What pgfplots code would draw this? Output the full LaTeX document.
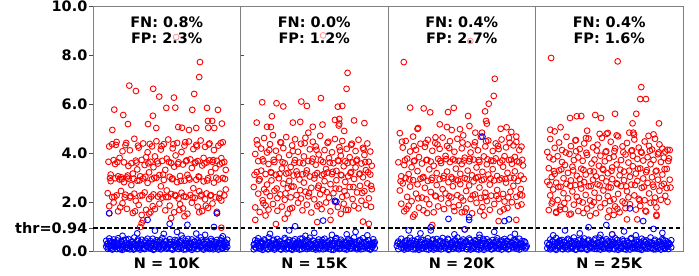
\documentclass[border=0pt]{standalone}
\usepackage{fontspec}
\setmainfont{DejaVu Sans}
\usepackage{pgfplots}
\usepackage{pgfplotstable}
\pgfplotsset{compat=1.18}
\definecolor{pred}{rgb}{1,0,0}
\definecolor{pblue}{rgb}{0,0,1}
\tikzset{ttl/.style={anchor=north, align=center, font=\fontsize{14.5}{16}\selectfont\bfseries, inner sep=0pt}}
\pgfplotsset{
  panel/.style={
    scale only axis, width=147.5bp, height=245bp,
    xmin=-0.5, xmax=0.5, ymin=0, ymax=10,
    anchor=south west,
    axis line style={draw=gray, line width=0.9bp},
    tick style={draw=black!70, line width=0.8bp},
    tick align=outside, major tick length=3.5bp,
    xtick={0}, xtick style={draw=none},
    ticklabel style={font=\fontsize{14.5}{17}\selectfont\bfseries},
    yticklabel style={inner xsep=2bp},
    /pgf/number format/assume math mode=true,
  },
  redpts/.style={only marks, mark=o, mark size=2.9bp, mark options={line width=0.9bp, draw=pred}, draw=pred},
  bluepts/.style={only marks, mark=o, mark size=2.9bp, mark options={line width=0.9bp, draw=pblue}, draw=pblue},
  pinkpts/.style={only marks, mark=o, mark size=2.9bp, mark options={line width=0.9bp, draw=pred!40}, draw=pred!40},
  thrline/.style={black, line width=1.2bp, dash pattern=on 4.5bp off 2.5bp, forget plot},
}
% dense part of the negative (blue) band, shared by the panels
\pgfplotstableread{
x y
-0.405 0.28
-0.395 0.14
-0.385 0.40
-0.375 0.21
-0.365 0.10
-0.355 0.33
-0.345 0.19
-0.335 0.43
-0.325 0.27
-0.315 0.07
-0.305 0.36
-0.295 0.15
-0.285 0.24
-0.275 0.46
-0.265 0.12
-0.255 0.31
-0.245 0.18
-0.235 0.39
-0.225 0.06
-0.215 0.29
-0.205 0.21
-0.195 0.47
-0.185 0.13
-0.175 0.35
-0.165 0.25
-0.155 0.09
-0.145 0.42
-0.135 0.19
-0.125 0.32
-0.115 0.14
-0.105 0.27
-0.095 0.50
-0.085 0.08
-0.075 0.22
-0.065 0.36
-0.055 0.16
-0.045 0.44
-0.035 0.11
-0.025 0.30
-0.015 0.20
-0.005 0.41
0.005 0.13
0.015 0.26
0.025 0.37
0.035 0.07
0.045 0.23
0.055 0.45
0.065 0.31
0.075 0.10
0.085 0.18
0.095 0.40
0.105 0.27
0.115 0.06
0.125 0.21
0.135 0.33
0.145 0.49
0.155 0.15
0.165 0.28
0.175 0.12
0.185 0.38
0.195 0.24
0.205 0.08
0.215 0.34
0.225 0.19
0.235 0.43
0.245 0.11
0.255 0.29
0.265 0.17
0.275 0.37
0.285 0.25
0.295 0.13
0.305 0.41
0.315 0.07
0.325 0.21
0.335 0.35
0.345 0.15
0.355 0.28
0.365 0.44
0.375 0.09
0.385 0.26
0.395 0.17
0.405 0.31
}\bluefill
\begin{document}
\begin{tikzpicture}
\path[use as bounding box] (0,0) rectangle (699bp,276bp);
% ---------------- Panel 1: N = 10K
\begin{axis}[panel, at={(93bp,25bp)},
  ytick={0,2,4,6,8,10},
  yticklabel style={/pgf/number format/.cd, fixed, fixed zerofill, precision=1},
  extra y ticks={0.94}, extra y tick labels={thr=0.94},
  xticklabels={N = 10K}]
\addplot[pinkpts] coordinates {(0.064,8.73)};
\addplot[redpts] coordinates {
(-0.254,6.75) (-0.209,6.53) (-0.092,6.62) (-0.051,6.30) (0.049,6.26) (0.186,6.41) (0.225,7.71) (0.220,7.10)
(-0.356,5.77) (-0.295,5.55) (-0.094,5.52) (-0.003,5.84) (0.058,5.85) (0.173,5.76) (0.273,5.84) (0.347,5.76)
(-0.263,5.18) (-0.127,5.18) (-0.071,5.02) (0.078,5.06) (0.103,5.03) (0.151,4.94) (0.200,5.02) (0.279,5.31)
(0.308,5.31) (0.281,5.03) (0.322,5.02) (0.374,5.20) (-0.369,4.94)
(-0.40,2.36) (-0.39,1.83) (-0.39,4.27) (-0.38,2.85) (-0.38,3.12) (-0.37,4.36) (-0.37,2.20) (-0.36,3.71) (-0.36,1.98)
(-0.35,3.55) (-0.35,2.97) (-0.34,4.45) (-0.34,2.27) (-0.33,3.05) (-0.33,1.62) (-0.32,2.92) (-0.32,3.80) (-0.31,2.45)
(-0.31,3.01) (-0.30,4.07) (-0.30,1.95) (-0.29,2.81) (-0.29,3.62) (-0.28,2.30) (-0.28,4.32) (-0.27,3.00) (-0.27,1.72)
(-0.26,3.47) (-0.26,2.95) (-0.25,2.18) (-0.25,4.11) (-0.24,3.58) (-0.24,2.69) (-0.23,1.55) (-0.23,3.16) (-0.22,2.34)
(-0.22,4.58) (-0.21,3.69) (-0.21,2.05) (-0.20,2.87) (-0.20,3.33) (-0.19,4.22) (-0.19,1.88) (-0.18,3.05) (-0.18,2.26)
(-0.17,3.72) (-0.17,1.47) (-0.16,2.96) (-0.16,4.39) (-0.15,2.39) (-0.15,3.51) (-0.14,1.68) (-0.14,3.83) (-0.13,2.78)
(-0.13,4.03) (-0.12,3.21) (-0.12,2.12) (-0.11,3.64) (-0.11,1.59) (-0.10,2.93) (-0.10,4.27) (-0.09,3.42) (-0.09,2.31)
(-0.08,3.86) (-0.08,1.71) (-0.07,2.99) (-0.07,4.48) (-0.06,2.22) (-0.06,3.57) (-0.05,3.10) (-0.05,1.93) (-0.04,4.14)
(-0.04,2.64) (-0.03,3.68) (-0.03,2.18) (-0.02,2.90) (-0.02,4.36) (-0.01,3.31) (-0.01,1.66) (0.00,2.47) (0.00,3.77)
(0.01,2.20) (0.01,4.55) (0.02,3.03) (0.02,1.85) (0.03,3.59) (0.03,2.33) (0.04,4.19) (0.04,2.96) (0.05,1.58)
(0.05,3.44) (0.06,2.25) (0.06,3.90) (0.07,2.81) (0.07,4.41) (0.08,2.14) (0.08,3.62) (0.09,1.91) (0.09,3.06)
(0.10,4.04) (0.10,2.38) (0.11,3.53) (0.11,1.74) (0.12,2.87) (0.12,4.30) (0.13,3.66) (0.13,2.21) (0.14,3.11)
(0.14,1.52) (0.15,4.47) (0.15,2.98) (0.16,2.29) (0.16,3.74) (0.17,1.97) (0.17,3.39) (0.18,4.16) (0.18,2.56)
(0.19,3.58) (0.19,2.17) (0.20,2.91) (0.20,4.33) (0.21,1.81) (0.21,3.67) (0.22,2.44) (0.22,3.02) (0.23,4.51)
(0.23,2.24) (0.24,3.49) (0.24,1.63) (0.25,2.84) (0.25,3.80) (0.26,2.11) (0.26,4.25) (0.27,3.61) (0.27,2.35)
(0.28,2.97) (0.28,1.76) (0.29,3.70) (0.29,4.39) (0.30,2.28) (0.30,3.22) (0.31,1.94) (0.31,3.64) (0.32,2.79)
(0.32,4.12) (0.33,3.38) (0.33,2.19) (0.34,3.68) (0.34,1.60) (0.35,2.92) (0.35,4.30) (0.36,2.34) (0.36,3.54)
(0.37,3.79) (0.37,2.06) (0.38,2.98) (0.38,4.44) (0.39,2.27) (0.39,3.63) (0.40,3.31) (0.40,2.51)
(-0.385,2.98) (-0.355,2.21) (-0.335,3.63) (-0.305,2.93) (-0.285,2.19) (-0.265,3.08) (-0.245,2.24) (-0.225,2.95)
(-0.205,3.61) (-0.185,2.88) (-0.165,2.27) (-0.145,3.03) (-0.125,3.58) (-0.105,2.22) (-0.085,2.99) (-0.065,3.66)
(-0.045,2.31) (-0.025,3.12) (-0.005,2.20) (0.015,3.64) (0.035,2.93) (0.055,2.29) (0.075,3.55) (0.095,2.86)
(0.115,2.23) (0.135,3.70) (0.155,2.92) (0.175,2.18) (0.195,3.62) (0.215,3.04) (0.235,2.30) (0.255,3.57)
(0.275,2.88) (0.295,2.26) (0.315,3.71) (0.335,2.99) (0.355,2.16) (0.375,3.60) (0.395,2.94) (-0.395,3.64)
(-0.345,4.33) (-0.275,4.41) (-0.195,4.30) (-0.115,4.37) (-0.035,4.28) (0.045,4.36) (0.125,4.44) (0.205,4.27)
(0.285,4.35) (0.365,4.40) (-0.315,1.78) (-0.215,1.62) (-0.095,1.83) (0.085,1.67) (0.265,1.85)
(-0.39,1.54) (0.34,1.54) (-0.18,0.98) (-0.17,1.14) (-0.16,1.25) (0.37,0.95) (-0.12,1.53) (0.03,1.35) (0.12,1.42) (0.22,1.58)
};
\addplot[bluepts] table[x=x, y=y] {\bluefill};
\addplot[bluepts] coordinates {
(-0.41,0.18) (-0.41,0.42) (-0.40,0.09) (-0.40,0.31) (-0.39,0.51) (-0.39,0.22) (-0.38,0.13) (-0.37,0.37) (-0.37,0.06)
(-0.36,0.27) (-0.36,0.47) (-0.35,0.15) (-0.34,0.34) (-0.34,0.08) (-0.33,0.24) (-0.33,0.52) (-0.32,0.11) (-0.31,0.39)
(-0.31,0.19) (-0.30,0.29) (-0.30,0.05) (-0.29,0.45) (-0.28,0.16) (-0.28,0.33) (-0.27,0.10) (-0.27,0.25) (-0.26,0.49)
(-0.25,0.20) (-0.25,0.07) (-0.24,0.36) (-0.23,0.14) (-0.23,0.28) (-0.22,0.55) (-0.22,0.09) (-0.21,0.23) (-0.20,0.41)
(-0.20,0.12) (-0.19,0.31) (-0.18,0.06) (-0.18,0.19) (-0.17,0.46) (-0.17,0.26) (-0.16,0.13) (-0.15,0.35) (-0.15,0.08)
(-0.14,0.22) (-0.13,0.50) (-0.13,0.16) (-0.12,0.30) (-0.11,0.10) (-0.11,0.40) (-0.10,0.21) (-0.09,0.05) (-0.09,0.33)
(-0.08,0.17) (-0.07,0.44) (-0.07,0.27) (-0.06,0.11) (-0.05,0.37) (-0.05,0.20) (-0.04,0.07) (-0.03,0.29) (-0.03,0.53)
(-0.02,0.14) (-0.01,0.24) (-0.01,0.39) (0.00,0.09) (0.01,0.32) (0.01,0.18) (0.02,0.48) (0.03,0.12) (0.03,0.27)
(0.04,0.06) (0.05,0.36) (0.05,0.21) (0.06,0.15) (0.07,0.43) (0.07,0.28) (0.08,0.08) (0.09,0.23) (0.09,0.35)
(0.10,0.13) (0.11,0.51) (0.11,0.19) (0.12,0.30) (0.13,0.07) (0.13,0.41) (0.14,0.25) (0.15,0.11) (0.15,0.34)
(0.16,0.17) (0.17,0.47) (0.17,0.05) (0.18,0.26) (0.19,0.38) (0.19,0.14) (0.20,0.22) (0.21,0.09) (0.21,0.44)
(0.22,0.31) (0.23,0.16) (0.23,0.55) (0.24,0.20) (0.25,0.06) (0.25,0.36) (0.26,0.27) (0.27,0.12) (0.27,0.42)
(0.28,0.18) (0.29,0.32) (0.29,0.08) (0.30,0.49) (0.31,0.23) (0.31,0.14) (0.32,0.37) (0.33,0.10) (0.33,0.29)
(0.34,0.45) (0.35,0.19) (0.35,0.06) (0.36,0.33) (0.37,0.24) (0.37,0.52) (0.38,0.13) (0.39,0.40) (0.39,0.21)
(0.40,0.09) (0.40,0.34) (0.41,0.17) (0.41,0.46)
(-0.13,1.27) (0.02,1.11) (0.14,1.07) (0.32,0.98) (-0.08,0.83) (-0.39,1.54) (0.34,1.54) (0.07,0.78) (0.20,0.71)
(-0.20,0.72) (0.26,0.66) (-0.02,0.70) (0.10,0.63) (-0.30,0.62) (0.38,0.60)
};
\addplot[thrline] coordinates {(-0.5,0.94) (0.5,0.94)};
\node[ttl] at (rel axis cs:0.5,0.957) {FN: 0.8\%\\FP: 2.3\%};
\end{axis}
% ---------------- Panel 2: N = 15K
\begin{axis}[panel, at={(240.5bp,25bp)}, ytick=\empty, xticklabels={N = 15K}]
\addplot[pinkpts] coordinates {(0.06,8.80)};
\addplot[redpts] coordinates {
(0.226,7.27) (0.219,6.62) (0.045,6.24) (-0.353,6.07) (-0.256,6.03) (-0.21,5.90) (-0.088,6.10) (-0.05,5.92)
(0.16,5.89) (0.19,5.92) (-0.287,5.50) (-0.39,5.24) (-0.32,5.07) (-0.294,5.06) (-0.145,5.24) (-0.095,5.27)
(-0.01,5.07) (0.056,5.16) (0.14,5.35) (0.17,5.39) (0.17,5.20) (0.166,5.12) (0.27,5.33) (0.34,5.22) (0.203,4.90) (-0.04,4.83)
(-0.41,2.61) (-0.40,3.96) (-0.40,1.78) (-0.39,3.22) (-0.39,4.52) (-0.38,2.34) (-0.38,3.67) (-0.37,1.59) (-0.37,2.93)
(-0.36,4.18) (-0.36,3.28) (-0.35,2.07) (-0.35,3.74) (-0.34,4.61) (-0.34,2.52) (-0.33,1.86) (-0.33,3.14) (-0.32,4.02)
(-0.32,2.71) (-0.31,3.55) (-0.31,1.69) (-0.30,2.24) (-0.30,4.36) (-0.29,3.19) (-0.29,2.88) (-0.28,4.73) (-0.28,1.92)
(-0.27,3.63) (-0.27,2.46) (-0.26,3.11) (-0.26,4.09) (-0.25,2.16) (-0.25,1.64) (-0.24,3.82) (-0.24,2.97) (-0.23,4.44)
(-0.23,2.31) (-0.22,3.37) (-0.22,1.81) (-0.21,2.75) (-0.21,4.20) (-0.20,3.58) (-0.20,2.09) (-0.19,3.16) (-0.19,4.65)
(-0.18,2.57) (-0.18,1.53) (-0.17,3.92) (-0.17,2.86) (-0.16,3.43) (-0.16,2.19) (-0.15,4.31) (-0.15,1.76) (-0.14,3.08)
(-0.14,2.63) (-0.13,3.71) (-0.13,4.56) (-0.12,2.28) (-0.12,3.25) (-0.11,1.97) (-0.11,4.05) (-0.10,2.92) (-0.10,3.61)
(-0.09,2.14) (-0.09,4.38) (-0.08,3.13) (-0.08,1.66) (-0.07,2.79) (-0.07,3.86) (-0.06,4.62) (-0.06,2.42) (-0.05,3.29)
(-0.05,1.89) (-0.04,3.67) (-0.04,2.23) (-0.03,4.15) (-0.03,3.04) (-0.02,2.58) (-0.02,1.57) (-0.01,3.77) (-0.01,4.46)
(0.00,2.96) (0.00,2.11) (0.01,3.52) (0.01,4.27) (0.02,1.83) (0.02,3.18) (0.03,2.67) (0.03,3.94) (0.04,2.32)
(0.04,4.70) (0.05,3.09) (0.05,1.71) (0.06,3.63) (0.06,2.49) (0.07,4.12) (0.07,2.85) (0.08,3.35) (0.08,1.98)
(0.09,4.41) (0.09,3.20) (0.10,2.18) (0.10,3.79) (0.11,2.73) (0.11,1.62) (0.12,4.03) (0.12,3.14) (0.13,2.36)
(0.13,3.58) (0.14,4.57) (0.14,2.01) (0.15,3.27) (0.15,2.89) (0.16,3.70) (0.16,1.79) (0.17,4.24) (0.17,2.54)
(0.18,3.11) (0.18,3.89) (0.19,2.21) (0.19,4.49) (0.20,1.93) (0.20,3.46) (0.21,2.82) (0.21,3.66) (0.22,4.17)
(0.22,2.27) (0.23,3.05) (0.23,1.68) (0.24,3.83) (0.24,2.61) (0.25,4.33) (0.25,3.22) (0.26,2.12) (0.26,3.61)
(0.27,1.85) (0.27,2.94) (0.28,4.08) (0.28,3.41) (0.29,2.39) (0.29,3.73) (0.30,1.74) (0.30,4.54) (0.31,3.16)
(0.31,2.66) (0.32,3.57) (0.32,2.05) (0.33,4.21) (0.33,3.01) (0.34,2.44) (0.34,3.92) (0.35,1.88) (0.35,3.30)
(0.36,4.39) (0.36,2.76) (0.37,3.64) (0.37,2.15) (0.38,3.12) (0.38,4.06) (0.39,2.52) (0.39,3.48)
(-0.405,3.11) (-0.375,2.87) (-0.345,3.66) (-0.325,2.40) (-0.295,3.22) (-0.275,3.72) (-0.255,2.55) (-0.235,3.15)
(-0.215,3.62) (-0.195,2.35) (-0.175,3.19) (-0.155,2.63) (-0.135,3.60) (-0.115,3.12) (-0.095,2.48) (-0.075,3.58)
(-0.055,3.17) (-0.035,2.36) (-0.015,3.65) (0.005,3.10) (0.025,2.58) (0.045,3.70) (0.065,3.14) (0.085,2.40)
(0.105,3.61) (0.125,3.23) (0.145,2.55) (0.165,3.67) (0.185,3.09) (0.205,2.44) (0.225,3.59) (0.245,3.18)
(0.265,2.61) (0.285,3.68) (0.305,3.13) (0.325,2.37) (0.345,3.63) (0.365,3.21) (0.385,2.66) (-0.385,4.35)
(-0.305,4.12) (-0.225,4.42) (-0.145,4.08) (-0.065,4.40) (0.015,4.13) (0.095,4.46) (0.175,4.10) (0.255,4.38)
(0.335,4.15) (-0.345,1.95) (-0.165,1.72) (0.035,1.90) (0.215,1.68) (0.385,1.80)
(-0.40,1.27) (-0.26,1.10) (-0.20,1.32) (0.02,1.18) (0.11,1.27) (0.33,1.20) (0.37,1.11) (-0.33,1.45) (0.18,1.52)
};
\addplot[bluepts] table[x=x, y=y] {\bluefill};
\addplot[bluepts] coordinates {
(-0.41,0.26) (-0.41,0.07) (-0.40,0.44) (-0.40,0.15) (-0.39,0.33) (-0.38,0.21) (-0.38,0.52) (-0.37,0.10) (-0.36,0.38)
(-0.36,0.18) (-0.35,0.05) (-0.35,0.29) (-0.34,0.47) (-0.33,0.13) (-0.33,0.24) (-0.32,0.36) (-0.31,0.08) (-0.31,0.55)
(-0.30,0.19) (-0.29,0.31) (-0.29,0.12) (-0.28,0.42) (-0.27,0.23) (-0.27,0.06) (-0.26,0.35) (-0.25,0.16) (-0.25,0.49)
(-0.24,0.27) (-0.23,0.09) (-0.23,0.40) (-0.22,0.20) (-0.21,0.32) (-0.21,0.14) (-0.20,0.53) (-0.19,0.07) (-0.19,0.25)
(-0.18,0.37) (-0.17,0.11) (-0.17,0.45) (-0.16,0.22) (-0.15,0.05) (-0.15,0.30) (-0.14,0.17) (-0.13,0.48) (-0.13,0.28)
(-0.12,0.10) (-0.11,0.39) (-0.11,0.19) (-0.10,0.06) (-0.09,0.34) (-0.09,0.24) (-0.08,0.51) (-0.07,0.13) (-0.07,0.29)
(-0.06,0.42) (-0.05,0.08) (-0.05,0.21) (-0.04,0.36) (-0.03,0.15) (-0.03,0.54) (-0.02,0.26) (-0.01,0.09) (-0.01,0.43)
(0.00,0.18) (0.01,0.33) (0.01,0.06) (0.02,0.23) (0.03,0.47) (0.03,0.12) (0.04,0.30) (0.05,0.20) (0.05,0.38)
(0.06,0.07) (0.07,0.27) (0.07,0.50) (0.08,0.14) (0.09,0.35) (0.09,0.22) (0.10,0.09) (0.11,0.44) (0.11,0.17)
(0.12,0.31) (0.13,0.05) (0.13,0.26) (0.14,0.40) (0.15,0.12) (0.15,0.53) (0.16,0.21) (0.17,0.34) (0.17,0.08)
(0.18,0.46) (0.19,0.18) (0.19,0.29) (0.20,0.11) (0.21,0.37) (0.21,0.24) (0.22,0.06) (0.23,0.49) (0.23,0.16)
(0.24,0.32) (0.25,0.10) (0.25,0.41) (0.26,0.20) (0.27,0.28) (0.27,0.55) (0.28,0.13) (0.29,0.36) (0.29,0.07)
(0.30,0.23) (0.31,0.45) (0.31,0.15) (0.32,0.30) (0.33,0.09) (0.33,0.52) (0.34,0.19) (0.35,0.38) (0.35,0.26)
(0.36,0.11) (0.37,0.43) (0.37,0.21) (0.38,0.06) (0.39,0.33) (0.39,0.17) (0.40,0.48) (0.40,0.25) (0.41,0.12) (0.41,0.36)
(0.06,1.24) (-0.13,1.01) (0.14,2.05) (0.15,2.01) (-0.17,0.84) (0.00,0.74) (0.28,0.78) (-0.30,0.70) (0.12,0.66)
(-0.06,0.62) (0.36,0.64) (0.22,0.68)
};
\addplot[thrline] coordinates {(-0.5,0.94) (0.5,0.94)};
\node[ttl] at (rel axis cs:0.5,0.957) {FN: 0.0\%\\FP: 1.2\%};
\end{axis}
% ---------------- Panel 3: N = 20K
\begin{axis}[panel, at={(388bp,25bp)}, ytick=\empty, xticklabels={N = 20K}]
\addplot[pinkpts] coordinates {(0.058,8.57)};
\addplot[redpts] coordinates {
(-0.393,7.71) (0.224,7.03) (0.217,6.33) (0.183,6.01) (0.158,5.70) (0.165,5.31) (0.17,5.20) (0.043,5.51)
(0.052,5.10) (-0.054,5.84) (-0.093,5.67) (-0.258,5.82) (-0.214,5.66) (-0.35,5.85) (-0.296,5.02) (-0.30,4.98)
(-0.149,5.17) (-0.10,5.06) (-0.068,4.94) (-0.012,4.97) (0.092,4.83) (0.137,4.83) (0.264,4.99) (0.304,5.05)
(0.336,4.86) (-0.178,4.64) (0.37,4.67)
(-0.43,3.62) (-0.42,2.47) (-0.42,4.81) (-0.41,1.93) (-0.41,3.05) (-0.40,4.22) (-0.40,2.76) (-0.39,3.51) (-0.39,1.62)
(-0.38,2.98) (-0.38,4.49) (-0.37,2.21) (-0.37,3.77) (-0.36,3.14) (-0.36,1.85) (-0.35,4.06) (-0.35,2.63) (-0.34,3.42)
(-0.34,2.03) (-0.33,4.67) (-0.33,2.89) (-0.32,3.69) (-0.32,1.49) (-0.31,2.34) (-0.31,4.13) (-0.30,3.26) (-0.30,2.72)
(-0.29,1.77) (-0.29,3.83) (-0.28,2.95) (-0.28,4.38) (-0.27,2.18) (-0.27,3.57) (-0.26,1.66) (-0.26,3.02) (-0.25,4.25)
(-0.25,2.58) (-0.24,3.71) (-0.24,2.11) (-0.23,4.54) (-0.23,2.86) (-0.22,3.33) (-0.22,1.91) (-0.21,3.65) (-0.21,2.41)
(-0.20,4.09) (-0.20,2.99) (-0.19,1.58) (-0.19,3.48) (-0.18,2.26) (-0.18,4.41) (-0.17,3.18) (-0.17,2.69) (-0.16,3.76)
(-0.16,1.82) (-0.15,4.17) (-0.15,2.93) (-0.14,2.14) (-0.14,3.59) (-0.13,4.63) (-0.13,2.52) (-0.12,3.07) (-0.12,1.71)
(-0.11,3.88) (-0.11,2.35) (-0.10,4.29) (-0.10,3.24) (-0.09,2.81) (-0.09,1.95) (-0.08,3.63) (-0.08,4.48) (-0.07,2.19)
(-0.07,3.01) (-0.06,3.74) (-0.06,2.64) (-0.05,4.05) (-0.05,1.63) (-0.04,3.36) (-0.04,2.91) (-0.03,4.58) (-0.03,2.28)
(-0.02,3.68) (-0.02,1.87) (-0.01,3.15) (-0.01,2.73) (0.00,4.19) (0.00,3.55) (0.01,2.06) (0.01,4.72) (0.02,2.97)
(0.02,3.81) (0.03,1.74) (0.03,2.45) (0.04,3.28) (0.04,4.35) (0.05,2.68) (0.05,3.66) (0.06,2.12) (0.06,4.02)
(0.07,3.09) (0.07,1.54) (0.08,3.73) (0.08,2.84) (0.09,4.44) (0.09,2.31) (0.10,3.41) (0.10,1.97) (0.11,3.02)
(0.11,4.11) (0.12,2.59) (0.12,3.64) (0.13,2.17) (0.13,4.66) (0.14,3.23) (0.14,1.79) (0.15,2.92) (0.15,3.86)
(0.16,2.38) (0.16,4.27) (0.17,3.54) (0.17,2.04) (0.18,3.12) (0.18,4.51) (0.19,2.71) (0.19,1.68) (0.20,3.69)
(0.20,2.26) (0.21,4.08) (0.21,3.34) (0.22,2.88) (0.22,1.92) (0.23,3.78) (0.23,4.39) (0.24,2.49) (0.24,3.06)
(0.25,2.13) (0.25,4.16) (0.26,3.61) (0.26,1.61) (0.27,2.96) (0.27,4.55) (0.28,2.33) (0.28,3.44) (0.29,3.87)
(0.29,2.02) (0.30,4.23) (0.30,2.79) (0.31,3.19) (0.31,1.76) (0.32,3.71) (0.32,4.62) (0.33,2.42) (0.33,2.99)
(0.34,3.56) (0.34,1.99) (0.35,4.31) (0.35,2.66) (0.36,3.25) (0.36,3.84) (0.37,2.21) (0.37,4.45) (0.38,2.86)
(0.38,1.84) (0.39,3.62) (0.39,4.12) (0.40,2.53) (0.40,3.08) (0.41,3.72) (0.41,2.27) (0.42,2.94)
(-0.415,2.85) (-0.385,3.70) (-0.355,2.92) (-0.325,3.66) (-0.295,2.15) (-0.265,2.99) (-0.235,3.72) (-0.205,2.90)
(-0.175,2.23) (-0.145,3.68) (-0.125,2.97) (-0.105,3.75) (-0.085,2.24) (-0.065,2.95) (-0.045,3.70) (-0.025,2.88)
(-0.005,2.18) (0.015,3.69) (0.035,2.93) (0.055,3.76) (0.075,2.27) (0.095,2.98) (0.115,3.71) (0.135,2.89)
(0.155,2.20) (0.175,3.74) (0.195,2.96) (0.215,3.67) (0.235,2.25) (0.255,2.91) (0.275,3.70) (0.295,2.94)
(0.315,2.19) (0.335,3.73) (0.355,2.97) (0.375,3.66) (0.395,2.30) (0.415,3.49) (-0.405,4.46) (-0.325,4.28)
(-0.245,4.40) (-0.165,4.35) (-0.085,4.20) (0.005,4.43) (0.085,4.31) (0.165,4.48) (0.245,4.29) (0.325,4.42)
(0.405,4.26) (-0.375,1.71) (-0.235,1.55) (-0.055,1.80) (0.125,1.62) (0.285,1.70) (0.405,1.90)
(0.25,1.22) (0.37,1.27) (-0.20,1.06) (0.02,0.88) (0.00,1.58) (0.02,1.60) (-0.33,1.40) (0.15,1.45)
};
\addplot[bluepts] table[x=x, y=y] {\bluefill};
\addplot[bluepts] coordinates {
(-0.44,0.21) (-0.43,0.39) (-0.43,0.08) (-0.42,0.30) (-0.41,0.14) (-0.41,0.50) (-0.40,0.25) (-0.39,0.06) (-0.39,0.35)
(-0.38,0.18) (-0.37,0.44) (-0.37,0.11) (-0.36,0.28) (-0.35,0.54) (-0.35,0.16) (-0.34,0.33) (-0.33,0.07) (-0.33,0.23)
(-0.32,0.41) (-0.31,0.12) (-0.31,0.29) (-0.30,0.48) (-0.29,0.19) (-0.29,0.05) (-0.28,0.37) (-0.27,0.26) (-0.27,0.10)
(-0.26,0.45) (-0.25,0.17) (-0.25,0.32) (-0.24,0.08) (-0.23,0.52) (-0.23,0.22) (-0.22,0.36) (-0.21,0.13) (-0.21,0.27)
(-0.20,0.43) (-0.19,0.06) (-0.19,0.19) (-0.18,0.34) (-0.17,0.49) (-0.17,0.11) (-0.16,0.24) (-0.15,0.40) (-0.15,0.15)
(-0.14,0.07) (-0.13,0.31) (-0.13,0.53) (-0.12,0.20) (-0.11,0.12) (-0.11,0.38) (-0.10,0.27) (-0.09,0.05) (-0.09,0.46)
(-0.08,0.17) (-0.07,0.33) (-0.07,0.23) (-0.06,0.09) (-0.05,0.42) (-0.05,0.14) (-0.04,0.29) (-0.03,0.55) (-0.03,0.19)
(-0.02,0.07) (-0.01,0.36) (-0.01,0.25) (0.00,0.12) (0.01,0.47) (0.01,0.21) (0.02,0.32) (0.03,0.09) (0.03,0.40)
(0.04,0.16) (0.05,0.27) (0.05,0.51) (0.06,0.06) (0.07,0.35) (0.07,0.20) (0.08,0.13) (0.09,0.44) (0.09,0.28)
(0.10,0.08) (0.11,0.37) (0.11,0.18) (0.12,0.54) (0.13,0.24) (0.13,0.11) (0.14,0.33) (0.15,0.05) (0.15,0.42)
(0.16,0.19) (0.17,0.29) (0.17,0.48) (0.18,0.14) (0.19,0.36) (0.19,0.22) (0.20,0.07) (0.21,0.45) (0.21,0.26)
(0.22,0.12) (0.23,0.38) (0.23,0.17) (0.24,0.52) (0.25,0.09) (0.25,0.31) (0.26,0.23) (0.27,0.43) (0.27,0.06)
(0.28,0.18) (0.29,0.34) (0.29,0.49) (0.30,0.13) (0.31,0.27) (0.31,0.40) (0.32,0.08) (0.33,0.21) (0.33,0.55)
(0.34,0.32) (0.35,0.15) (0.35,0.44) (0.36,0.25) (0.37,0.10) (0.37,0.37) (0.38,0.19) (0.39,0.50) (0.39,0.06)
(0.40,0.29) (0.41,0.16) (0.41,0.41) (0.42,0.23) (0.43,0.11) (0.43,0.35) (0.44,0.20)
(-0.435,0.33) (0.425,0.39) (0.435,0.15)
(-0.09,1.31) (0.05,1.27) (0.05,1.38) (0.29,1.22) (0.32,1.29) (0.02,0.88) (-0.21,0.97) (-0.36,0.84) (-0.21,0.84)
(0.14,4.67) (-0.28,0.72) (0.22,0.78) (0.36,0.70) (-0.05,0.68) (0.12,0.66)
};
\addplot[thrline] coordinates {(-0.5,0.94) (0.5,0.94)};
\node[ttl] at (rel axis cs:0.5,0.957) {FN: 0.4\%\\FP: 2.7\%};
\end{axis}
% ---------------- Panel 4: N = 25K
\begin{axis}[panel, at={(535.5bp,25bp)}, ytick=\empty, xticklabels={N = 25K}]
\addplot[redpts] coordinates {
(-0.394,7.88) (0.057,7.74) (0.217,6.69) (0.21,6.20) (0.249,6.20) (-0.266,5.43) (-0.22,5.50) (-0.19,5.51)
(-0.095,5.55) (-0.056,5.43) (0.039,5.60) (0.183,5.60) (0.158,5.21) (0.337,5.21) (-0.15,4.91) (-0.065,4.78)
(-0.018,4.78) (-0.01,4.82) (0.05,4.72) (0.136,4.83) (0.163,4.83) (0.168,4.75) (0.266,4.70) (0.30,4.76)
(-0.226,4.53) (-0.158,4.61) (-0.40,4.95) (-0.37,4.88) (-0.33,5.05)
(-0.42,2.83) (-0.42,4.04) (-0.41,1.67) (-0.41,3.38) (-0.40,2.27) (-0.40,4.57) (-0.39,3.02) (-0.39,1.94) (-0.38,3.74)
(-0.38,2.51) (-0.37,4.21) (-0.37,3.15) (-0.36,1.56) (-0.36,2.79) (-0.35,3.87) (-0.35,2.08) (-0.34,4.43) (-0.34,3.29)
(-0.33,2.62) (-0.33,1.81) (-0.32,3.63) (-0.32,4.12) (-0.31,2.36) (-0.31,2.97) (-0.30,3.51) (-0.30,1.71) (-0.29,4.66)
(-0.29,2.74) (-0.28,3.19) (-0.28,2.15) (-0.27,3.96) (-0.27,1.49) (-0.26,2.88) (-0.26,4.28) (-0.25,3.44) (-0.25,2.43)
(-0.24,1.89) (-0.24,3.71) (-0.23,2.69) (-0.23,4.51) (-0.22,3.07) (-0.22,2.21) (-0.21,3.82) (-0.21,1.63) (-0.20,2.94)
(-0.20,4.16) (-0.19,3.36) (-0.19,2.55) (-0.18,1.98) (-0.18,3.68) (-0.17,4.39) (-0.17,2.81) (-0.16,3.12) (-0.16,2.29)
(-0.15,1.73) (-0.15,3.92) (-0.14,2.64) (-0.14,4.59) (-0.13,3.26) (-0.13,2.06) (-0.12,3.57) (-0.12,1.86) (-0.11,2.91)
(-0.11,4.23) (-0.10,3.73) (-0.10,2.38) (-0.09,1.54) (-0.09,3.05) (-0.08,4.34) (-0.08,2.72) (-0.07,3.48) (-0.07,2.17)
(-0.06,3.89) (-0.06,1.78) (-0.05,2.98) (-0.05,4.62) (-0.04,3.31) (-0.04,2.47) (-0.03,3.66) (-0.03,1.95) (-0.02,4.07)
(-0.02,2.84) (-0.01,3.17) (-0.01,2.24) (0.00,3.79) (0.00,1.65) (0.01,4.46) (0.01,2.59) (0.02,3.41) (0.02,2.93)
(0.03,2.11) (0.03,3.85) (0.04,4.19) (0.04,1.82) (0.05,2.76) (0.05,3.53) (0.06,4.68) (0.06,2.33) (0.07,3.09)
(0.07,1.58) (0.08,3.71) (0.08,2.65) (0.09,4.27) (0.09,2.02) (0.10,3.24) (0.10,2.89) (0.11,3.94) (0.11,1.75)
(0.12,2.44) (0.12,4.41) (0.13,3.61) (0.13,2.19) (0.14,3.03) (0.14,1.91) (0.15,4.09) (0.15,2.71) (0.16,3.46)
(0.16,3.88) (0.17,2.27) (0.17,4.55) (0.18,1.69) (0.18,3.16) (0.19,2.86) (0.19,3.76) (0.20,4.22) (0.20,2.13)
(0.21,3.37) (0.21,1.84) (0.22,2.58) (0.22,4.01) (0.23,3.69) (0.23,2.96) (0.24,2.07) (0.24,4.47) (0.25,3.22)
(0.25,1.61) (0.26,2.78) (0.26,3.83) (0.27,4.29) (0.27,2.35) (0.28,3.54) (0.28,1.97) (0.29,3.01) (0.29,4.14)
(0.30,2.62) (0.30,3.72) (0.31,2.18) (0.31,4.58) (0.32,3.28) (0.32,1.78) (0.33,2.91) (0.33,3.95) (0.34,4.35)
(0.34,2.46) (0.35,3.63) (0.35,2.09) (0.36,3.12) (0.36,4.18) (0.37,2.74) (0.37,3.81) (0.38,2.25) (0.38,4.06)
(0.39,3.35) (0.39,2.57) (0.40,3.67) (0.41,2.91) (0.41,4.12)
(-0.405,2.70) (-0.375,3.26) (-0.345,2.61) (-0.325,3.33) (-0.295,4.02) (-0.265,2.66) (-0.245,3.29) (-0.225,4.07)
(-0.195,2.72) (-0.175,3.31) (-0.155,4.01) (-0.125,2.65) (-0.105,3.24) (-0.085,4.10) (-0.065,2.68) (-0.045,3.35)
(-0.025,4.04) (-0.005,2.60) (0.015,3.27) (0.035,4.08) (0.055,2.73) (0.075,3.32) (0.095,4.03) (0.115,2.64)
(0.135,3.28) (0.155,4.11) (0.175,2.69) (0.195,3.36) (0.215,4.05) (0.235,2.62) (0.255,3.30) (0.275,4.09)
(0.295,2.71) (0.315,3.25) (0.335,4.02) (0.355,2.67) (0.375,3.34) (0.395,4.13) (0.415,2.59) (-0.385,2.02)
(-0.305,1.96) (-0.205,2.05) (-0.105,1.99) (0.005,2.04) (0.105,1.95) (0.205,2.07) (0.305,1.98) (0.395,2.01)
(-0.335,1.68) (-0.175,1.55) (0.055,1.72) (0.245,1.64) (-0.405,3.82) (0.405,3.78)
(0.12,1.29) (0.19,1.29) (-0.01,1.38) (0.03,1.47) (-0.13,1.44) (0.32,1.43) (0.32,1.48) (0.02,0.68) (-0.36,1.60) (-0.26,1.52)
};
\addplot[bluepts] table[x=x, y=y] {\bluefill};
\addplot[bluepts] coordinates {
(-0.42,0.33) (-0.42,0.12) (-0.41,0.24) (-0.40,0.47) (-0.40,0.07) (-0.39,0.19) (-0.38,0.38) (-0.38,0.14) (-0.37,0.28)
(-0.36,0.53) (-0.36,0.05) (-0.35,0.22) (-0.34,0.41) (-0.34,0.16) (-0.33,0.31) (-0.32,0.09) (-0.32,0.45) (-0.31,0.25)
(-0.30,0.13) (-0.30,0.36) (-0.29,0.20) (-0.28,0.50) (-0.28,0.07) (-0.27,0.30) (-0.26,0.17) (-0.26,0.42) (-0.25,0.11)
(-0.24,0.26) (-0.24,0.55) (-0.23,0.06) (-0.22,0.35) (-0.22,0.19) (-0.21,0.44) (-0.20,0.13) (-0.20,0.28) (-0.19,0.08)
(-0.18,0.39) (-0.18,0.22) (-0.17,0.51) (-0.16,0.15) (-0.16,0.32) (-0.15,0.05) (-0.14,0.25) (-0.14,0.46) (-0.13,0.12)
(-0.12,0.37) (-0.12,0.18) (-0.11,0.29) (-0.10,0.09) (-0.10,0.43) (-0.09,0.21) (-0.08,0.34) (-0.08,0.14) (-0.07,0.54)
(-0.06,0.06) (-0.06,0.27) (-0.05,0.40) (-0.04,0.17) (-0.04,0.10) (-0.03,0.31) (-0.02,0.48) (-0.02,0.23) (-0.01,0.13)
(0.00,0.36) (0.00,0.07) (0.01,0.20) (0.02,0.44) (0.02,0.28) (0.03,0.11) (0.04,0.33) (0.04,0.52) (0.05,0.16)
(0.06,0.05) (0.06,0.25) (0.07,0.39) (0.08,0.19) (0.08,0.12) (0.09,0.47) (0.10,0.30) (0.10,0.08) (0.11,0.22)
(0.12,0.41) (0.12,0.15) (0.13,0.35) (0.14,0.06) (0.14,0.26) (0.15,0.53) (0.16,0.18) (0.16,0.11) (0.17,0.32)
(0.18,0.45) (0.18,0.21) (0.19,0.09) (0.20,0.38) (0.20,0.27) (0.21,0.14) (0.22,0.50) (0.22,0.05) (0.23,0.24)
(0.24,0.36) (0.24,0.17) (0.25,0.43) (0.26,0.10) (0.26,0.29) (0.27,0.20) (0.28,0.55) (0.28,0.13) (0.29,0.34)
(0.30,0.07) (0.30,0.23) (0.31,0.46) (0.32,0.16) (0.32,0.31) (0.33,0.11) (0.34,0.39) (0.34,0.25) (0.35,0.06)
(0.36,0.49) (0.36,0.19) (0.37,0.33) (0.38,0.12) (0.38,0.42) (0.39,0.22) (0.40,0.08) (0.40,0.35) (0.41,0.27)
(0.42,0.15) (0.42,0.44)
(0.14,1.74) (0.23,1.22) (-0.02,1.06) (-0.14,0.97) (0.02,0.68) (-0.30,0.84) (0.30,0.90) (0.10,0.80) (-0.20,0.72)
(0.36,0.74) (-0.06,0.66) (0.18,0.64) (-0.38,0.64)
};
\addplot[thrline] coordinates {(-0.5,0.94) (0.5,0.94)};
\node[ttl] at (rel axis cs:0.5,0.957) {FN: 0.4\%\\FP: 1.6\%};
\end{axis}
\end{tikzpicture}
\end{document}
